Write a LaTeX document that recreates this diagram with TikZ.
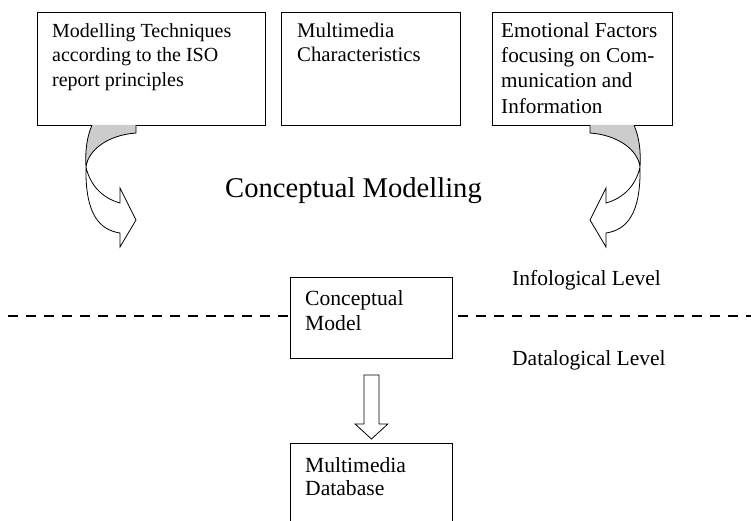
\documentclass[tikz,border=0pt]{standalone}
\usepackage{fontspec}
\setmainfont{Liberation Serif}
\usetikzlibrary{calc}

\tikzset{
  box/.style={draw, fill=white, line width=0.9pt, inner sep=0pt, anchor=north west},
  boxtext/.style={inner sep=0pt, anchor=north west, align=left},
  label/.style={inner sep=0pt, anchor=base west},
  shade/.style={fill=gray!40},
  outline/.style={line width=0.8pt, line join=miter},
  % curved block arrow hanging below a box; origin is its top inner corner
  curvedarrow/.pic={
    \coordinate (-A) at (-44,0);
    \coordinate (-B) at (0,0);
    \coordinate (-C) at (0,8);
    \coordinate (-P) at (-50,42);
    \coordinate (-D) at (-16,108);
    \coordinate (-E) at (-16,122);
    \coordinate (-T) at (0,95);
    \coordinate (-F) at (-16,63);
    \coordinate (-G) at (-16,78);
    \fill[shade] (-A) .. controls (-49,12) and (-51,25) .. (-P)
                      .. controls (-48,25) and (-28,10) .. (-C) -- (-B) -- cycle;
    \draw[outline] (-A) .. controls (-49,12) and (-51,25) .. (-P)
                        .. controls (-51,90) and (-36,105) .. (-D)
                        -- (-E) -- (-T) -- (-F) -- (-G)
                        .. controls (-34,73) and (-46,60) .. (-P)
                        .. controls (-48,25) and (-28,10) .. (-C) -- (-B);
  }
}

\newcommand{\firstline}{\rule{0pt}{16pt}}

\begin{document}
\begin{tikzpicture}[x=1pt, y=-1pt]
  \useasboundingbox (0,0) rectangle (751,521);
  \clip (0,0) rectangle (751,521);

  % level separator
  \coordinate (dl) at (8,316);
  \coordinate (dr) at (751,316);
  \draw[line width=2.5pt, dash pattern=on 10pt off 8pt] (dl) -- (dr);

  % source boxes
  \node[box, minimum width=228pt, minimum height=113pt] (b1) at (37,12) {};
  \node[box, minimum width=179pt, minimum height=113pt] (b2) at (281,12) {};
  \node[box, minimum width=180pt, minimum height=113pt] (b3) at (492,12) {};

  \node[boxtext, font=\fontsize{20}{24.5}\selectfont] (t1) at (52,21)
    {\firstline Modelling Techniques\\according to the ISO\\report principles};
  \node[boxtext, font=\fontsize{20.8}{24.5}\selectfont] (t2) at (297,21)
    {\firstline Multimedia\\Characteristics};
  \node[boxtext, font=\fontsize{21.2}{25.3}\selectfont] (t3) at (501,21)
    {\firstline Emotional Factors\\focusing on Com-\\munication and\\Information};

  % curved arrows into the modelling step
  \pic at (136,125) {curvedarrow};
  \pic[xscale=-1] at (590,125) {curvedarrow};

  \node[label, font=\fontsize{28.6}{34}\selectfont] (title) at (225,197) {Conceptual Modelling};

  % level labels
  \node[label, font=\fontsize{21.5}{25}\selectfont] (info) at (512,285) {Infological Level};
  \node[label, font=\fontsize{21.5}{25}\selectfont] (data) at (512,365) {Datalogical Level};

  % model and database
  \node[box, minimum width=162pt, minimum height=81pt] (cm) at (290,277) {};
  \node[boxtext, font=\fontsize{21.6}{25}\selectfont] (tcm) at (305,289)
    {\firstline Conceptual\\Model};
  \node[box, minimum width=162pt, minimum height=130pt] (mdb) at (290,443) {};
  \node[boxtext, font=\fontsize{21.6}{23.5}\selectfont] (tmdb) at (305,456)
    {\firstline Multimedia\\Database};

  % block arrow from model to database
  \draw[outline, fill=white]
    ($(cm.south)+(-7.5,16)$) -- ($(cm.south)+(7.5,16)$) -- ($(cm.south)+(7.5,65)$)
    -- ($(cm.south)+(16.5,65)$) -- ($(mdb.north)+(0,-4)$) -- ($(cm.south)+(-16.5,65)$)
    -- ($(cm.south)+(-7.5,65)$) -- cycle;
\end{tikzpicture}
\end{document}
